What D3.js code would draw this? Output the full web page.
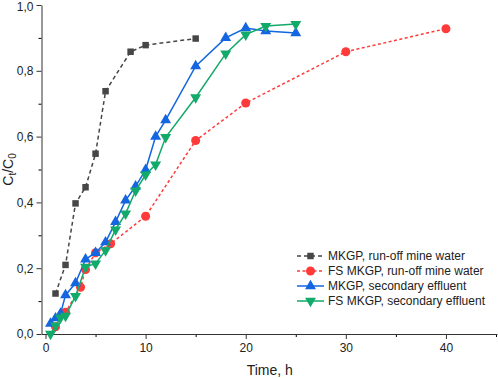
<!DOCTYPE html>
<html>
<head>
<meta charset="utf-8">
<script src="https://cdn.jsdelivr.net/npm/d3@7"></script>
<style>
  body { margin: 0; background: #fff; }
  svg { font-family: "Liberation Sans", Arial, sans-serif; }
</style>
</head>
<body>
<div id="chart"></div>
<script>
// breakthrough curves
var mkgpMine = [[1, 0.123], [2, 0.21], [3, 0.397], [4, 0.446], [5, 0.548], [6, 0.738], [8.5, 0.858], [10, 0.878], [15, 0.898]];
var fsMkgpMine = [[1, 0.022], [2, 0.066], [3.5, 0.142], [4, 0.196], [5, 0.247], [6.5, 0.274], [10, 0.358], [15, 0.588], [20, 0.702], [30, 0.858], [40, 0.928]];
var mkgpSec = [[0.5, 0.032], [1, 0.048], [1.5, 0.062], [2, 0.118], [3, 0.155], [4, 0.227], [5, 0.247], [6, 0.279], [7, 0.341], [8, 0.406], [9, 0.449], [10, 0.499], [11, 0.6], [12, 0.65], [15, 0.814], [18, 0.9], [20, 0.93], [22, 0.921], [25, 0.915]];
var fsMkgpSec = [[0.5, 0.0], [1, 0.025], [1.5, 0.05], [2, 0.055], [3, 0.115], [4, 0.204], [5, 0.214], [6, 0.254], [7, 0.317], [8, 0.366], [9, 0.436], [10, 0.484], [11, 0.515], [12, 0.598], [15, 0.719], [18, 0.852], [20, 0.91], [22, 0.936], [25, 0.942]];

var seriesNames = ["MKGP, run-off mine water", "FS MKGP, run-off mine water", "MKGP, secondary effluent", "FS MKGP, secondary effluent"];
var xTicks = [0, 10, 20, 30, 40];
var yTicks = [0, 0.2, 0.4, 0.6, 0.8, 1.0];

var width = 498, height = 378;
var margin = {left: 41.5, right: 1, top: 5, bottom: 44};

var svg = d3.select("#chart").append("svg")
  .attr("width", width)
  .attr("height", height);

var x = d3.scaleLinear().domain([-0.4, 45.1]).range([margin.left, width - margin.right]);
var y = d3.scaleLinear().domain([0, 1]).range([height - margin.bottom, margin.top]);

var fmt = function(d) { return d3.format(".1f")(d).replace(".", ","); };

// minor ticks first
svg.append("g")
  .attr("transform", "translate(0," + y(0) + ")")
  .call(d3.axisBottom(x).tickValues([5, 15, 25, 35, 45]).tickSize(3).tickFormat(""))
  .call(function(g) { g.select(".domain").remove(); });
svg.append("g")
  .attr("transform", "translate(" + margin.left + ",0)")
  .call(d3.axisLeft(y).tickValues([0.1, 0.3, 0.5, 0.7, 0.9]).tickSize(3).tickFormat(""))
  .call(function(g) { g.select(".domain").remove(); });

var xAxis = svg.append("g")
  .attr("transform", "translate(0," + y(0) + ")")
  .call(d3.axisBottom(x).tickValues(xTicks).tickSize(5).tickSizeOuter(0).tickPadding(4));
var yAxis = svg.append("g")
  .attr("transform", "translate(" + margin.left + ",0)")
  .call(d3.axisLeft(y).tickValues(yTicks).tickSize(5).tickSizeOuter(0).tickPadding(3).tickFormat(fmt));

[xAxis, yAxis].forEach(function(a) {
  a.selectAll("text").attr("font-size", 12).attr("fill", "#222").attr("font-family", "Liberation Sans, Arial, sans-serif");
  a.selectAll("line, path").attr("stroke", "#333");
});
// keep the top label inside the picture
yAxis.selectAll(".tick text").filter(function(d) { return d === 1; }).attr("dy", "0.45em");

// axis titles
svg.append("text")
  .attr("x", (margin.left + width) / 2)
  .attr("y", 375)
  .attr("text-anchor", "middle")
  .attr("font-size", 14)
  .attr("fill", "#222")
  .text("Time, h");

var yl = svg.append("text")
  .attr("transform", "translate(13," + y(0.5) + ") rotate(-90)")
  .attr("text-anchor", "middle")
  .attr("font-size", 14)
  .attr("fill", "#222");
yl.append("tspan").text("C");
yl.append("tspan").attr("font-size", 10).attr("dy", 3).text("t");
yl.append("tspan").attr("dy", -3).text("/C");
yl.append("tspan").attr("font-size", 10).attr("dy", 3).text("0");

var styles = [
  {data: mkgpMine, color: "#464646", dash: "4,3", marker: d3.symbolSquare, size: 42, rot: 0},
  {data: fsMkgpMine, color: "#ff3a3a", dash: "3,2.5", marker: d3.symbolCircle, size: 64, rot: 0},
  {data: mkgpSec, color: "#1466e0", dash: null, marker: d3.symbolTriangle, size: 52, rot: 0},
  {data: fsMkgpSec, color: "#12aa6a", dash: null, marker: d3.symbolTriangle, size: 52, rot: 180}
];

var line = d3.line().x(function(d) { return x(d[0]); }).y(function(d) { return y(d[1]); });

styles.forEach(function(s) {
  svg.append("path")
    .datum(s.data)
    .attr("d", line)
    .attr("fill", "none")
    .attr("stroke", s.color)
    .attr("stroke-width", 1.5)
    .attr("stroke-dasharray", s.dash);
  svg.selectAll(null)
    .data(s.data)
    .enter().append("path")
    .attr("d", d3.symbol().type(s.marker).size(s.size))
    .attr("transform", function(d) { return "translate(" + x(d[0]) + "," + y(d[1]) + ") rotate(" + s.rot + ")"; })
    .attr("fill", s.color);
});

// legend
var legend = svg.append("g").attr("transform", "translate(297,256)");
styles.forEach(function(s, i) {
  var g = legend.append("g").attr("transform", "translate(0," + (i * 15) + ")");
  g.append("line")
    .attr("x1", 0).attr("x2", 27)
    .attr("stroke", s.color)
    .attr("stroke-width", 1.5)
    .attr("stroke-dasharray", s.dash);
  g.append("path")
    .attr("d", d3.symbol().type(s.marker).size(s.size))
    .attr("transform", "translate(13.5,0) rotate(" + s.rot + ")")
    .attr("fill", s.color);
  g.append("text")
    .attr("x", 31)
    .attr("dy", "0.35em")
    .attr("font-size", 12)
    .attr("fill", "#222")
    .text(seriesNames[i]);
});
</script>
</body>
</html>
